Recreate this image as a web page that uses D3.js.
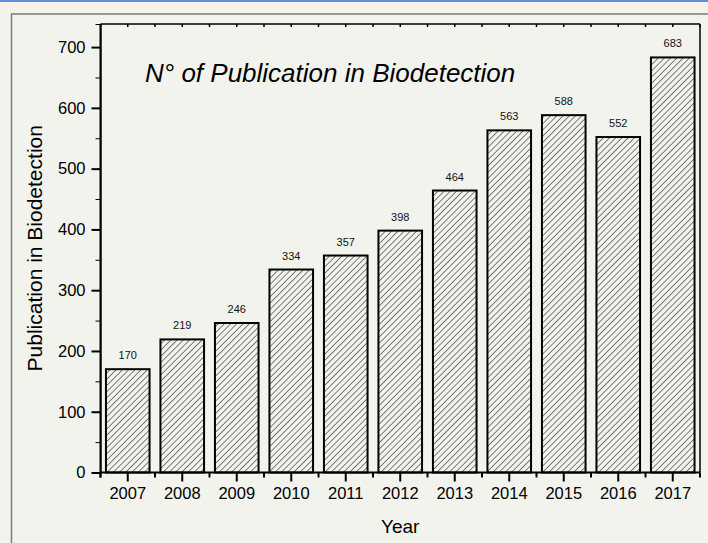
<!DOCTYPE html>
<html>
<head>
<meta charset="utf-8">
<script src="https://cdnjs.cloudflare.com/ajax/libs/d3/7.8.5/d3.min.js"></script>
<style>
  html, body { margin: 0; padding: 0; background: #f3f3ee; }
  svg { display: block; font-family: "Liberation Sans", Arial, sans-serif; }
</style>
</head>
<body>
<div id="chart"></div>
<script>

// publications per year
var years = ["2007", "2008", "2009", "2010", "2011", "2012", "2013", "2014", "2015", "2016", "2017"];
var counts = [170, 219, 246, 334, 357, 398, 464, 563, 588, 552, 683];
var yTicks = [0, 100, 200, 300, 400, 500, 600, 700];
var yMinorTicks = [50, 150, 250, 350, 450, 550, 650];

var width = 708, height = 543;
var plot = {left: 100.5, right: 700, top: 24, bottom: 472.5};

var svg = d3.select("#chart")
	.append("svg")
	.attr("width", width)
	.attr("height", height);

// hatch for the bars
var defs = svg.append("defs");
defs.append("pattern")
	.attr("id", "hatch")
	.attr("patternUnits", "userSpaceOnUse")
	.attr("width", 4.4)
	.attr("height", 4.4)
	.attr("patternTransform", "rotate(45)")
	.append("line")
	.attr("x1", 0).attr("y1", 0)
	.attr("x2", 0).attr("y2", 4.4)
	.style("stroke", "#3a3a3a")
	.style("stroke-width", 1.3);

// window background + frames
svg.append("rect")
	.attr("width", width).attr("height", height)
	.style("fill", "#f3f3ee");
svg.append("rect")
	.attr("x", 0).attr("y", 0)
	.attr("width", width).attr("height", 2)
	.style("fill", "#5b8fdc");
svg.append("rect")
	.attr("x", 11.5).attr("y", 14)
	.attr("width", 800).attr("height", 600)
	.style("fill", "none")
	.style("stroke", "#7a7a7a")
	.style("stroke-width", 1.5);

var x = d3.scaleBand()
	.domain(years)
	.range([plot.left, plot.right])
	.paddingInner(0.2)
	.paddingOuter(0.1);

var y = d3.scaleLinear()
	.domain([0, 738])
	.range([plot.bottom, plot.top]);

// bars
svg.selectAll(".bar")
	.data(counts)
	.enter().append("rect")
	.attr("class", "bar")
	.attr("x", function(d, i) { return x(years[i]); })
	.attr("y", function(d) { return y(d); })
	.attr("width", x.bandwidth())
	.attr("height", function(d) { return y(0) - y(d); })
	.style("fill", "url(#hatch)")
	.style("stroke", "#000")
	.style("stroke-width", 2);

// value labels
svg.selectAll(".val")
	.data(counts)
	.enter().append("text")
	.attr("class", "val")
	.attr("x", function(d, i) { return x(years[i]) + x.bandwidth() / 2; })
	.attr("y", function(d) { return y(d) - 10; })
	.attr("text-anchor", "middle")
	.style("font-size", "11px")
	.style("fill", "#111")
	.text(function(d) { return d; });

// left axis
var yAxis = d3.axisLeft(y)
	.tickValues(yTicks)
	.tickSize(9)
	.tickPadding(6)
	.tickFormat(d3.format("d"));
var gy = svg.append("g")
	.attr("transform", "translate(" + plot.left + ",0)")
	.call(yAxis);
svg.append("g")
	.attr("transform", "translate(" + plot.left + ",0)")
	.call(d3.axisLeft(y).tickValues(yMinorTicks).tickSize(5).tickFormat(""));

// bottom axis, majors at bar centres, minors between
var xAxis = d3.axisBottom(x)
	.tickSize(9)
	.tickPadding(6);
var gx = svg.append("g")
	.attr("transform", "translate(0," + plot.bottom + ")")
	.call(xAxis);

var step = x.step();
var mids = d3.range(years.length + 1).map(function(i) { return plot.left + i * step; });
svg.append("g")
	.selectAll("line")
	.data(mids)
	.enter().append("line")
	.attr("x1", function(d) { return d; })
	.attr("x2", function(d) { return d; })
	.attr("y1", plot.bottom)
	.attr("y2", plot.bottom + 5)
	.style("stroke", "#000")
	.style("stroke-width", 2);

// little ticks on the top edge
var topTicks = mids.concat(years.map(function(d) { return x(d) + x.bandwidth() / 2; }));
svg.append("g")
	.selectAll("line")
	.data(topTicks)
	.enter().append("line")
	.attr("x1", function(d) { return d; })
	.attr("x2", function(d) { return d; })
	.attr("y1", plot.top)
	.attr("y2", plot.top + 3)
	.style("stroke", "#000")
	.style("stroke-width", 1.5);

[gy, gx].forEach(function(g) {
	g.select(".domain").remove();
	g.selectAll(".tick line").style("stroke", "#000").style("stroke-width", 2);
	g.selectAll(".tick text")
		.style("font-size", "16.5px")
		.style("font-family", "\"Liberation Sans\", Arial, sans-serif")
		.style("fill", "#000");
});

// plot frame
svg.append("line")
	.attr("x1", plot.left).attr("x2", plot.left)
	.attr("y1", plot.top).attr("y2", plot.bottom + 5)
	.style("stroke", "#000").style("stroke-width", 2);
svg.append("line")
	.attr("x1", plot.left).attr("x2", plot.right)
	.attr("y1", plot.bottom).attr("y2", plot.bottom)
	.style("stroke", "#000").style("stroke-width", 2);
svg.append("line")
	.attr("x1", plot.left).attr("x2", plot.right)
	.attr("y1", plot.top).attr("y2", plot.top)
	.style("stroke", "#000").style("stroke-width", 1.5);
svg.append("line")
	.attr("x1", plot.right).attr("x2", plot.right)
	.attr("y1", plot.top).attr("y2", plot.bottom)
	.style("stroke", "#000").style("stroke-width", 1.5);

// titles
svg.append("text")
	.attr("x", 145)
	.attr("y", 82)
	.style("font-size", "26px")
	.style("font-style", "italic")
	.text("N° of Publication in Biodetection");

svg.append("text")
	.attr("x", (plot.left + plot.right) / 2)
	.attr("y", 533)
	.attr("text-anchor", "middle")
	.style("font-size", "19px")
	.text("Year");

svg.append("text")
	.attr("transform", "translate(42," + ((plot.top + plot.bottom) / 2) + ") rotate(-90)")
	.attr("text-anchor", "middle")
	.style("font-size", "21px")
	.text("Publication in Biodetection");

</script>
</body>
</html>
